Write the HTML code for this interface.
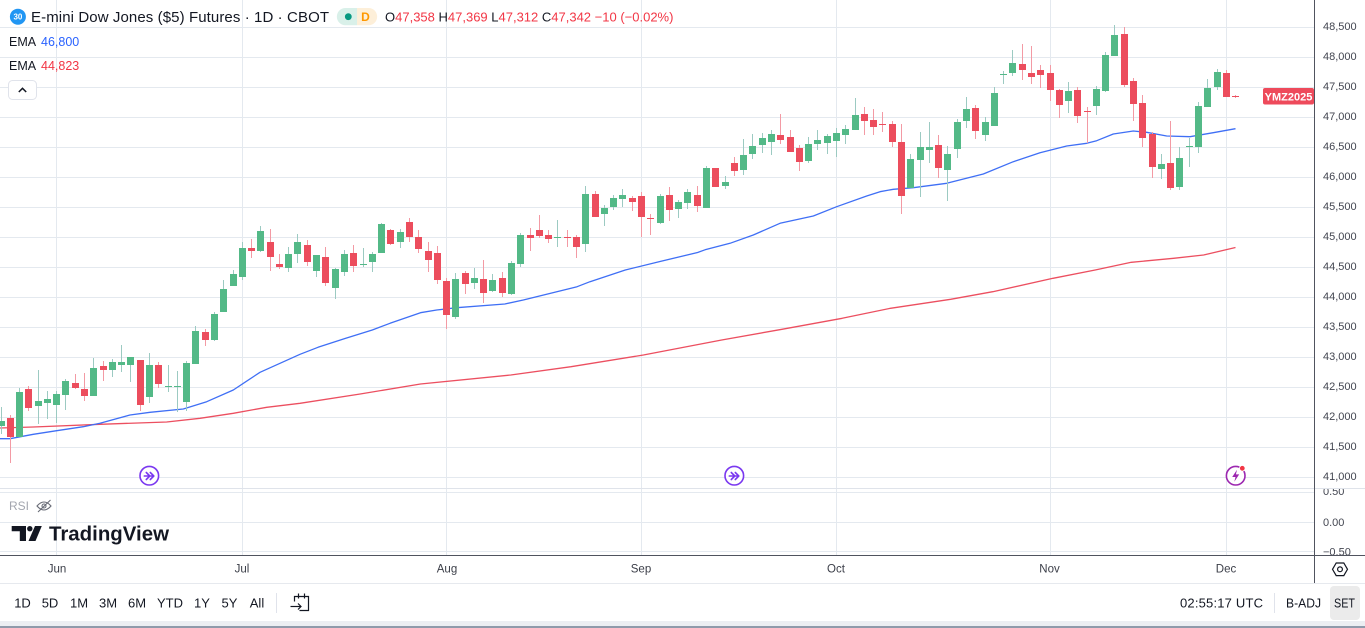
<!DOCTYPE html>
<html><head><meta charset="utf-8"><style>
html,body{margin:0;padding:0;background:#fff;}
body{width:1365px;height:628px;overflow:hidden;}
svg{display:block;font-family:"Liberation Sans",Arial,sans-serif;}
</style></head><body>
<svg width="1365" height="628" viewBox="0 0 1365 628" xmlns="http://www.w3.org/2000/svg">
<defs>
<clipPath id="main"><rect x="0" y="0" width="1314" height="488"/></clipPath>
<clipPath id="rsiax"><rect x="1315" y="489" width="50" height="66"/></clipPath>
</defs>
<rect width="1365" height="628" fill="#fff"/>
<!-- grid -->
<g stroke="#e4e9ef" stroke-width="1" shape-rendering="crispEdges">
<line x1="56.5" y1="0" x2="56.5" y2="555"/><line x1="242.5" y1="0" x2="242.5" y2="555"/><line x1="446.5" y1="0" x2="446.5" y2="555"/><line x1="641.5" y1="0" x2="641.5" y2="555"/><line x1="836.5" y1="0" x2="836.5" y2="555"/><line x1="1050.5" y1="0" x2="1050.5" y2="555"/><line x1="1226.5" y1="0" x2="1226.5" y2="555"/>
<line x1="0" y1="27.5" x2="1314" y2="27.5"/><line x1="0" y1="57.5" x2="1314" y2="57.5"/><line x1="0" y1="87.5" x2="1314" y2="87.5"/><line x1="0" y1="117.5" x2="1314" y2="117.5"/><line x1="0" y1="147.5" x2="1314" y2="147.5"/><line x1="0" y1="177.5" x2="1314" y2="177.5"/><line x1="0" y1="207.5" x2="1314" y2="207.5"/><line x1="0" y1="237.5" x2="1314" y2="237.5"/><line x1="0" y1="267.5" x2="1314" y2="267.5"/><line x1="0" y1="297.5" x2="1314" y2="297.5"/><line x1="0" y1="327.5" x2="1314" y2="327.5"/><line x1="0" y1="357.5" x2="1314" y2="357.5"/><line x1="0" y1="387.5" x2="1314" y2="387.5"/><line x1="0" y1="417.5" x2="1314" y2="417.5"/><line x1="0" y1="447.5" x2="1314" y2="447.5"/><line x1="0" y1="477.5" x2="1314" y2="477.5"/>
<line x1="0" y1="492.5" x2="1314" y2="492.5"/><line x1="0" y1="522.5" x2="1314" y2="522.5"/><line x1="0" y1="551.5" x2="1314" y2="551.5"/>
</g>
<g clip-path="url(#main)">
<!-- EMA lines -->
<polyline fill="none" stroke="#ec4f60" stroke-width="1.3" stroke-linejoin="round" points="0,428 33.3,427 100,424.3 166.7,422 200,418.3 233.3,413.3 266.7,407.3 300,403.3 360.2,394 420.5,384 510.8,375 571.1,366.7 643.4,355 721.7,340 781.9,329.3 842.2,318.3 890.4,308.3 950.6,299.3 992.8,291.7 1053,278.3 1095.2,270 1131.3,262.3 1173.5,258.3 1203.6,255 1235.5,247.5"/>
<polyline fill="none" stroke="#3f6ff5" stroke-width="1.3" stroke-linejoin="round" points="0,438.7 10,438.7 33.3,434.3 56.7,430.7 83.3,426.7 100,423.3 130,415 150,412.3 183.3,409 206.7,401.7 233.3,390 260,372.3 300,354.3 318,347.3 345,338.5 372.3,330 390,323.3 420.5,312.7 436.7,310 456.7,307.7 504.8,304 523.3,300 577.1,286.7 590,281.7 625.3,270 660,261.5 697.6,252.5 705,249.8 730,243.3 753.3,235 780,223.3 813.3,216 836.7,206.7 866.7,196 880,191.7 893.3,189.3 913.3,187.7 946.7,183.3 983.3,174 1013.3,161.7 1040,152.7 1066.7,146 1086.7,143.3 1096.7,140.7 1113.3,134 1133.3,131 1146.7,132.3 1166.7,136 1190,136.7 1213.3,132.7 1235.5,128.7"/>
<!-- wicks green -->
<g stroke="#9ccac2" stroke-width="1" shape-rendering="crispEdges">
<line x1="1.5" y1="407" x2="1.5" y2="434"/><line x1="19.5" y1="388" x2="19.5" y2="437"/><line x1="38.5" y1="370" x2="38.5" y2="424"/><line x1="47.5" y1="391" x2="47.5" y2="419"/><line x1="56.5" y1="391" x2="56.5" y2="423"/><line x1="65.5" y1="379" x2="65.5" y2="410"/><line x1="93.5" y1="358" x2="93.5" y2="396"/><line x1="112.5" y1="359" x2="112.5" y2="377"/><line x1="121.5" y1="345" x2="121.5" y2="372"/><line x1="130.5" y1="357" x2="130.5" y2="382"/><line x1="149.5" y1="353" x2="149.5" y2="403"/><line x1="168.5" y1="365" x2="168.5" y2="392"/><line x1="177.5" y1="371" x2="177.5" y2="412"/><line x1="186.5" y1="361" x2="186.5" y2="411"/><line x1="195.5" y1="326" x2="195.5" y2="364"/><line x1="214.5" y1="312" x2="214.5" y2="341"/><line x1="223.5" y1="280" x2="223.5" y2="312"/><line x1="233.5" y1="270" x2="233.5" y2="286"/><line x1="242.5" y1="242" x2="242.5" y2="280"/><line x1="260.5" y1="226" x2="260.5" y2="252"/><line x1="288.5" y1="247" x2="288.5" y2="272"/><line x1="297.5" y1="234" x2="297.5" y2="263"/><line x1="316.5" y1="255" x2="316.5" y2="277"/><line x1="335.5" y1="268" x2="335.5" y2="299"/><line x1="344.5" y1="250" x2="344.5" y2="276"/><line x1="363.5" y1="248" x2="363.5" y2="267"/><line x1="372.5" y1="252" x2="372.5" y2="272"/><line x1="381.5" y1="223" x2="381.5" y2="253"/><line x1="400.5" y1="229" x2="400.5" y2="248"/><line x1="455.5" y1="273" x2="455.5" y2="319"/><line x1="474.5" y1="268" x2="474.5" y2="289"/><line x1="492.5" y1="274" x2="492.5" y2="292"/><line x1="511.5" y1="261" x2="511.5" y2="295"/><line x1="520.5" y1="233" x2="520.5" y2="267"/><line x1="557.5" y1="220" x2="557.5" y2="247"/><line x1="585.5" y1="186" x2="585.5" y2="252"/><line x1="604.5" y1="205" x2="604.5" y2="226"/><line x1="613.5" y1="195" x2="613.5" y2="210"/><line x1="622.5" y1="189" x2="622.5" y2="207"/><line x1="660.5" y1="194" x2="660.5" y2="224"/><line x1="678.5" y1="200" x2="678.5" y2="218"/><line x1="687.5" y1="189" x2="687.5" y2="209"/><line x1="706.5" y1="166" x2="706.5" y2="208"/><line x1="725.5" y1="176" x2="725.5" y2="189"/><line x1="743.5" y1="139" x2="743.5" y2="175"/><line x1="752.5" y1="134" x2="752.5" y2="159"/><line x1="762.5" y1="133" x2="762.5" y2="153"/><line x1="771.5" y1="130" x2="771.5" y2="155"/><line x1="808.5" y1="137" x2="808.5" y2="163"/><line x1="817.5" y1="130" x2="817.5" y2="150"/><line x1="827.5" y1="134" x2="827.5" y2="154"/><line x1="836.5" y1="128" x2="836.5" y2="157"/><line x1="845.5" y1="125" x2="845.5" y2="144"/><line x1="855.5" y1="98" x2="855.5" y2="130"/><line x1="910.5" y1="154" x2="910.5" y2="188"/><line x1="920.5" y1="132" x2="920.5" y2="197"/><line x1="929.5" y1="122" x2="929.5" y2="163"/><line x1="947.5" y1="146" x2="947.5" y2="201"/><line x1="957.5" y1="119" x2="957.5" y2="158"/><line x1="966.5" y1="97" x2="966.5" y2="128"/><line x1="985.5" y1="117" x2="985.5" y2="141"/><line x1="994.5" y1="87" x2="994.5" y2="126"/><line x1="1003.5" y1="71" x2="1003.5" y2="84"/><line x1="1012.5" y1="50" x2="1012.5" y2="76"/><line x1="1068.5" y1="82" x2="1068.5" y2="113"/><line x1="1096.5" y1="86" x2="1096.5" y2="115"/><line x1="1105.5" y1="52" x2="1105.5" y2="92"/><line x1="1114.5" y1="25" x2="1114.5" y2="56"/><line x1="1161.5" y1="154" x2="1161.5" y2="179"/><line x1="1179.5" y1="147" x2="1179.5" y2="190"/><line x1="1189.5" y1="138" x2="1189.5" y2="167"/><line x1="1198.5" y1="102" x2="1198.5" y2="153"/><line x1="1207.5" y1="79" x2="1207.5" y2="107"/><line x1="1217.5" y1="69" x2="1217.5" y2="90"/>
</g>
<!-- wicks red -->
<g stroke="#f39aa4" stroke-width="1" shape-rendering="crispEdges">
<line x1="10.5" y1="415" x2="10.5" y2="463"/><line x1="28.5" y1="386" x2="28.5" y2="411"/><line x1="75.5" y1="374" x2="75.5" y2="389"/><line x1="84.5" y1="373" x2="84.5" y2="401"/><line x1="103.5" y1="361" x2="103.5" y2="381"/><line x1="140.5" y1="360" x2="140.5" y2="411"/><line x1="158.5" y1="362" x2="158.5" y2="388"/><line x1="205.5" y1="329" x2="205.5" y2="346"/><line x1="251.5" y1="239" x2="251.5" y2="258"/><line x1="270.5" y1="229" x2="270.5" y2="271"/><line x1="279.5" y1="254" x2="279.5" y2="269"/><line x1="307.5" y1="240" x2="307.5" y2="266"/><line x1="325.5" y1="247" x2="325.5" y2="286"/><line x1="353.5" y1="245" x2="353.5" y2="272"/><line x1="390.5" y1="229" x2="390.5" y2="245"/><line x1="409.5" y1="218" x2="409.5" y2="242"/><line x1="418.5" y1="230" x2="418.5" y2="253"/><line x1="428.5" y1="242" x2="428.5" y2="272"/><line x1="437.5" y1="246" x2="437.5" y2="284"/><line x1="446.5" y1="278" x2="446.5" y2="329"/><line x1="465.5" y1="271" x2="465.5" y2="294"/><line x1="483.5" y1="260" x2="483.5" y2="303"/><line x1="502.5" y1="272" x2="502.5" y2="297"/><line x1="530.5" y1="228" x2="530.5" y2="251"/><line x1="539.5" y1="215" x2="539.5" y2="238"/><line x1="548.5" y1="230" x2="548.5" y2="243"/><line x1="567.5" y1="230" x2="567.5" y2="247"/><line x1="576.5" y1="235" x2="576.5" y2="258"/><line x1="595.5" y1="191" x2="595.5" y2="217"/><line x1="632.5" y1="196" x2="632.5" y2="211"/><line x1="641.5" y1="192" x2="641.5" y2="237"/><line x1="650.5" y1="214" x2="650.5" y2="235"/><line x1="669.5" y1="187" x2="669.5" y2="221"/><line x1="697.5" y1="186" x2="697.5" y2="212"/><line x1="715.5" y1="168" x2="715.5" y2="187"/><line x1="734.5" y1="157" x2="734.5" y2="176"/><line x1="780.5" y1="114" x2="780.5" y2="144"/><line x1="790.5" y1="130" x2="790.5" y2="152"/><line x1="799.5" y1="145" x2="799.5" y2="171"/><line x1="864.5" y1="107" x2="864.5" y2="135"/><line x1="873.5" y1="109" x2="873.5" y2="135"/><line x1="882.5" y1="112" x2="882.5" y2="132"/><line x1="892.5" y1="121" x2="892.5" y2="147"/><line x1="901.5" y1="124" x2="901.5" y2="214"/><line x1="938.5" y1="135" x2="938.5" y2="178"/><line x1="975.5" y1="105" x2="975.5" y2="139"/><line x1="1022.5" y1="44" x2="1022.5" y2="80"/><line x1="1031.5" y1="46" x2="1031.5" y2="84"/><line x1="1040.5" y1="65" x2="1040.5" y2="88"/><line x1="1050.5" y1="65" x2="1050.5" y2="101"/><line x1="1059.5" y1="89" x2="1059.5" y2="118"/><line x1="1077.5" y1="87" x2="1077.5" y2="123"/><line x1="1087.5" y1="107" x2="1087.5" y2="143"/><line x1="1124.5" y1="27" x2="1124.5" y2="87"/><line x1="1133.5" y1="78" x2="1133.5" y2="121"/><line x1="1142.5" y1="95" x2="1142.5" y2="147"/><line x1="1152.5" y1="132" x2="1152.5" y2="178"/><line x1="1170.5" y1="121" x2="1170.5" y2="190"/><line x1="1226.5" y1="70" x2="1226.5" y2="97"/><line x1="1235.5" y1="95" x2="1235.5" y2="98"/>
</g>
<!-- bodies green -->
<g fill="#53b987" shape-rendering="crispEdges">
<rect x="-2" y="421" width="7" height="5"/><rect x="16" y="392" width="7" height="45"/><rect x="35" y="401" width="7" height="5"/><rect x="44" y="399" width="7" height="4"/><rect x="53" y="394" width="7" height="11"/><rect x="62" y="381" width="7" height="14"/><rect x="90" y="368" width="7" height="28"/><rect x="109" y="362" width="7" height="8"/><rect x="118" y="362" width="7" height="3"/><rect x="127" y="357" width="7" height="8"/><rect x="146" y="365" width="7" height="32"/><rect x="165" y="386" width="7" height="1"/><rect x="174" y="386" width="7" height="1"/><rect x="183" y="363" width="7" height="39"/><rect x="192" y="331" width="7" height="33"/><rect x="211" y="314" width="7" height="26"/><rect x="220" y="289" width="7" height="23"/><rect x="230" y="274" width="7" height="12"/><rect x="239" y="248" width="7" height="29"/><rect x="257" y="231" width="7" height="20"/><rect x="285" y="254" width="7" height="14"/><rect x="294" y="242" width="7" height="12"/><rect x="313" y="255" width="7" height="16"/><rect x="332" y="269" width="7" height="19"/><rect x="341" y="254" width="7" height="18"/><rect x="360" y="264" width="7" height="1"/><rect x="369" y="254" width="7" height="8"/><rect x="378" y="224" width="7" height="29"/><rect x="397" y="232" width="7" height="10"/><rect x="452" y="279" width="7" height="38"/><rect x="471" y="278" width="7" height="5"/><rect x="489" y="280" width="7" height="11"/><rect x="508" y="263" width="7" height="31"/><rect x="517" y="235" width="7" height="29"/><rect x="554" y="237" width="7" height="1"/><rect x="582" y="194" width="7" height="50"/><rect x="601" y="208" width="7" height="6"/><rect x="610" y="198" width="7" height="9"/><rect x="619" y="195" width="7" height="4"/><rect x="657" y="196" width="7" height="27"/><rect x="675" y="202" width="7" height="7"/><rect x="684" y="192" width="7" height="11"/><rect x="703" y="168" width="7" height="40"/><rect x="722" y="182" width="7" height="4"/><rect x="740" y="155" width="7" height="15"/><rect x="749" y="146" width="7" height="8"/><rect x="759" y="138" width="7" height="7"/><rect x="768" y="134" width="7" height="8"/><rect x="805" y="144" width="7" height="17"/><rect x="814" y="140" width="7" height="4"/><rect x="824" y="136" width="7" height="7"/><rect x="833" y="133" width="7" height="8"/><rect x="842" y="129" width="7" height="6"/><rect x="852" y="115" width="7" height="15"/><rect x="907" y="159" width="7" height="29"/><rect x="917" y="147" width="7" height="13"/><rect x="926" y="147" width="7" height="3"/><rect x="944" y="154" width="7" height="16"/><rect x="954" y="122" width="7" height="27"/><rect x="963" y="109" width="7" height="12"/><rect x="982" y="122" width="7" height="13"/><rect x="991" y="93" width="7" height="33"/><rect x="1000" y="74" width="7" height="1"/><rect x="1009" y="63" width="7" height="10"/><rect x="1065" y="91" width="7" height="10"/><rect x="1093" y="89" width="7" height="17"/><rect x="1102" y="55" width="7" height="36"/><rect x="1111" y="35" width="7" height="21"/><rect x="1158" y="164" width="7" height="5"/><rect x="1176" y="158" width="7" height="29"/><rect x="1186" y="146" width="7" height="1"/><rect x="1195" y="106" width="7" height="41"/><rect x="1204" y="88" width="7" height="19"/><rect x="1214" y="72" width="7" height="15"/>
</g>
<!-- bodies red -->
<g fill="#ec4d5d" shape-rendering="crispEdges">
<rect x="7" y="418" width="7" height="19"/><rect x="25" y="389" width="7" height="19"/><rect x="72" y="383" width="7" height="5"/><rect x="81" y="389" width="7" height="7"/><rect x="100" y="366" width="7" height="4"/><rect x="137" y="360" width="7" height="45"/><rect x="155" y="365" width="7" height="19"/><rect x="202" y="332" width="7" height="8"/><rect x="248" y="248" width="7" height="3"/><rect x="267" y="242" width="7" height="15"/><rect x="276" y="264" width="7" height="3"/><rect x="304" y="245" width="7" height="17"/><rect x="322" y="257" width="7" height="26"/><rect x="350" y="253" width="7" height="13"/><rect x="387" y="230" width="7" height="14"/><rect x="406" y="222" width="7" height="15"/><rect x="415" y="237" width="7" height="12"/><rect x="425" y="251" width="7" height="9"/><rect x="434" y="253" width="7" height="27"/><rect x="443" y="281" width="7" height="34"/><rect x="462" y="273" width="7" height="11"/><rect x="480" y="279" width="7" height="14"/><rect x="499" y="278" width="7" height="15"/><rect x="527" y="235" width="7" height="3"/><rect x="536" y="230" width="7" height="6"/><rect x="545" y="235" width="7" height="4"/><rect x="564" y="237" width="7" height="1"/><rect x="573" y="237" width="7" height="10"/><rect x="592" y="194" width="7" height="23"/><rect x="629" y="198" width="7" height="4"/><rect x="638" y="196" width="7" height="21"/><rect x="647" y="218" width="7" height="1"/><rect x="666" y="195" width="7" height="15"/><rect x="694" y="195" width="7" height="11"/><rect x="712" y="168" width="7" height="19"/><rect x="731" y="163" width="7" height="8"/><rect x="777" y="135" width="7" height="5"/><rect x="787" y="137" width="7" height="15"/><rect x="796" y="148" width="7" height="14"/><rect x="861" y="114" width="7" height="7"/><rect x="870" y="120" width="7" height="7"/><rect x="879" y="124" width="7" height="1"/><rect x="889" y="124" width="7" height="18"/><rect x="898" y="142" width="7" height="54"/><rect x="935" y="145" width="7" height="23"/><rect x="972" y="108" width="7" height="23"/><rect x="1019" y="64" width="7" height="6"/><rect x="1028" y="73" width="7" height="4"/><rect x="1037" y="70" width="7" height="5"/><rect x="1047" y="73" width="7" height="17"/><rect x="1056" y="90" width="7" height="15"/><rect x="1074" y="90" width="7" height="26"/><rect x="1084" y="111" width="7" height="1"/><rect x="1121" y="34" width="7" height="51"/><rect x="1130" y="81" width="7" height="23"/><rect x="1139" y="103" width="7" height="35"/><rect x="1149" y="134" width="7" height="33"/><rect x="1167" y="163" width="7" height="25"/><rect x="1223" y="73" width="7" height="24"/><rect x="1232" y="96" width="7" height="1"/>
</g>
<!-- event markers -->
<g fill="#fff" stroke="#7a38f0" stroke-width="1.6" stroke-linecap="round" stroke-linejoin="round">
<circle cx="149.3" cy="475.7" r="9.3"/>
<path d="M144.3,476 H153.3 M150.3,472.5 L153.8,476 L150.3,479.5 M146.3,472.5 L149.8,476 L146.3,479.5" fill="none"/>
<circle cx="734.3" cy="475.7" r="9.3"/>
<path d="M729.3,476 H738.3 M735.3,472.5 L738.8,476 L735.3,479.5 M731.3,472.5 L734.8,476 L731.3,479.5" fill="none"/>
</g>
<circle cx="1235.7" cy="475.7" r="9.3" fill="#fff" stroke="#9c27b0" stroke-width="1.6"/>
<path d="M1237,469.7 L1232.2,477 H1235.5 L1234.3,481.7 L1239.2,474.4 H1235.9 Z" fill="#9c27b0"/>
<circle cx="1242.3" cy="468.3" r="2.8" fill="#f23645" stroke="#fff" stroke-width="0.8"/>
<!-- price label -->
<rect x="1263" y="88" width="51" height="16.5" rx="2" fill="#ee4a5b"/>
<text x="1288.5" y="100.3" font-size="11" font-weight="bold" fill="#fff" text-anchor="middle">YMZ2025</text>
</g>
<!-- pane separators / axes -->
<g shape-rendering="crispEdges">
<line x1="0" y1="488.5" x2="1365" y2="488.5" stroke="#dfe3ea"/>
<line x1="0" y1="555.5" x2="1365" y2="555.5" stroke="#50535e"/>
<line x1="1314.5" y1="0" x2="1314.5" y2="583" stroke="#50535e"/>
<line x1="0" y1="583.5" x2="1365" y2="583.5" stroke="#e6e9ee"/>
<rect x="0" y="621" width="1365" height="5" fill="#eceef2"/>
<rect x="0" y="626" width="1365" height="2" fill="#8f9aaa"/>
</g>
<!-- price axis labels -->
<g font-size="11" fill="#434651">
<text x="1323" y="30">48,500</text><text x="1323" y="60">48,000</text><text x="1323" y="90">47,500</text><text x="1323" y="120">47,000</text><text x="1323" y="150">46,500</text><text x="1323" y="180">46,000</text><text x="1323" y="210">45,500</text><text x="1323" y="240">45,000</text><text x="1323" y="270">44,500</text><text x="1323" y="300">44,000</text><text x="1323" y="330">43,500</text><text x="1323" y="360">43,000</text><text x="1323" y="390">42,500</text><text x="1323" y="420">42,000</text><text x="1323" y="450">41,500</text><text x="1323" y="480">41,000</text>
</g>
<g font-size="11" fill="#434651" clip-path="url(#rsiax)">
<text x="1323" y="495">0.50</text><text x="1323" y="526">0.00</text><text x="1323" y="555.5">−0.50</text>
</g>
<!-- time labels -->
<g font-size="11.5" fill="#3b3e48" text-anchor="middle">
<text x="57" y="572.5">Jun</text><text x="242" y="572.5">Jul</text><text x="447" y="572.5">Aug</text><text x="641" y="572.5">Sep</text><text x="836" y="572.5">Oct</text><text x="1049.5" y="572.5">Nov</text><text x="1226" y="572.5">Dec</text>
</g>
<!-- settings icon -->
<g fill="none" stroke="#131722" stroke-width="1.2">
<polygon points="1332.5,569.3 1336.2,563 1343.8,563 1347.5,569.3 1343.8,575.6 1336.2,575.6"/>
<circle cx="1340" cy="569.3" r="2.4"/>
</g>
<!-- legend -->
<circle cx="17.9" cy="16.7" r="8" fill="#2196f3"/>
<text x="17.9" y="19.6" font-size="8" font-weight="bold" fill="#fff" text-anchor="middle">30</text>
<text x="31" y="22" font-size="15" fill="#131722" textLength="298" lengthAdjust="spacing">E-mini Dow Jones ($5) Futures · 1D · CBOT</text>
<path d="M345.5,8 H357 V25.3 H345.5 A8.65,8.65 0 0 1 345.5,8 Z" fill="#d9f0e9"/>
<path d="M357,8 H368.5 A8.65,8.65 0 0 1 368.5,25.3 H357 Z" fill="#fdefd9"/>
<circle cx="348.3" cy="16.7" r="3.4" fill="#089981"/>
<text x="365.5" y="21.2" font-size="12" font-weight="bold" fill="#ff9800" text-anchor="middle">D</text>
<text x="385" y="21.5" font-size="13" fill="#131722">O<tspan fill="#f23645">47,358</tspan> H<tspan fill="#f23645">47,369</tspan> L<tspan fill="#f23645">47,312</tspan> C<tspan fill="#f23645">47,342</tspan> <tspan fill="#f23645">−10 (−0.02%)</tspan></text>
<text x="9" y="46.2" font-size="12.5" fill="#131722">EMA</text>
<text x="41" y="46.2" font-size="12.5" fill="#2962ff">46,800</text>
<text x="9" y="70.2" font-size="12.5" fill="#131722">EMA</text>
<text x="41" y="70.2" font-size="12.5" fill="#f23645">44,823</text>
<rect x="8.5" y="80.5" width="28" height="19" rx="4" fill="#fff" stroke="#e0e3eb"/>
<polyline points="18.8,92 22.5,88.3 26.2,92" fill="none" stroke="#131722" stroke-width="1.5"/>
<!-- RSI legend -->
<text x="9" y="510" font-size="12" fill="#a3a6af">RSI</text>
<g fill="none" stroke="#6a6d78" stroke-width="1.1">
<path d="M37,506 Q44,498 51,506 Q44,514 37,506 Z"/>
<circle cx="44" cy="506" r="2"/>
<line x1="38" y1="512" x2="50.5" y2="500"/>
</g>
<!-- TradingView logo -->
<g fill="#131722">
<path d="M11.7,526 H26 V541 H19.8 V531.3 H11.7 Z"/>
<circle cx="29.8" cy="528.7" r="2.7"/>
<polygon points="35,526 41.8,526 35.5,541 28.5,541"/>
</g>
<text x="49" y="540.5" font-size="20" font-weight="bold" fill="#131722" textLength="120" lengthAdjust="spacingAndGlyphs">TradingView</text>
<!-- bottom toolbar -->
<g font-size="13" fill="#131722" text-anchor="middle">
<text x="22.5" y="607.6">1D</text><text x="50" y="607.6">5D</text><text x="79" y="607.6">1M</text><text x="108" y="607.6">3M</text><text x="137" y="607.6">6M</text><text x="170" y="607.6">YTD</text><text x="202" y="607.6">1Y</text><text x="229.5" y="607.6">5Y</text><text x="257" y="607.6">All</text>
</g>
<line x1="276.5" y1="593" x2="276.5" y2="613" stroke="#e0e3eb" shape-rendering="crispEdges"/>
<g fill="none" stroke="#131722" stroke-width="1.2">
<path d="M294.5,601.5 V596.5 H308.5 V610.5 H299.5"/>
<line x1="298.5" y1="593.5" x2="298.5" y2="598.5"/>
<line x1="304.5" y1="593.5" x2="304.5" y2="598.5"/>
<line x1="290.5" y1="606.5" x2="301" y2="606.5"/>
<polyline points="298,603.5 301,606.5 298,609.5"/>
</g>
<text x="1180" y="607.6" font-size="13" fill="#131722" textLength="83" lengthAdjust="spacing">02:55:17 UTC</text>
<line x1="1274.5" y1="593" x2="1274.5" y2="613" stroke="#e0e3eb" shape-rendering="crispEdges"/>
<text x="1286" y="607.6" font-size="13" fill="#131722" textLength="35" lengthAdjust="spacingAndGlyphs">B-ADJ</text>
<rect x="1330" y="586" width="30" height="34" rx="4" fill="#ebebeb"/>
<text x="1334" y="607.6" font-size="13" fill="#131722" textLength="21" lengthAdjust="spacingAndGlyphs">SET</text>
</svg>
</body></html>
